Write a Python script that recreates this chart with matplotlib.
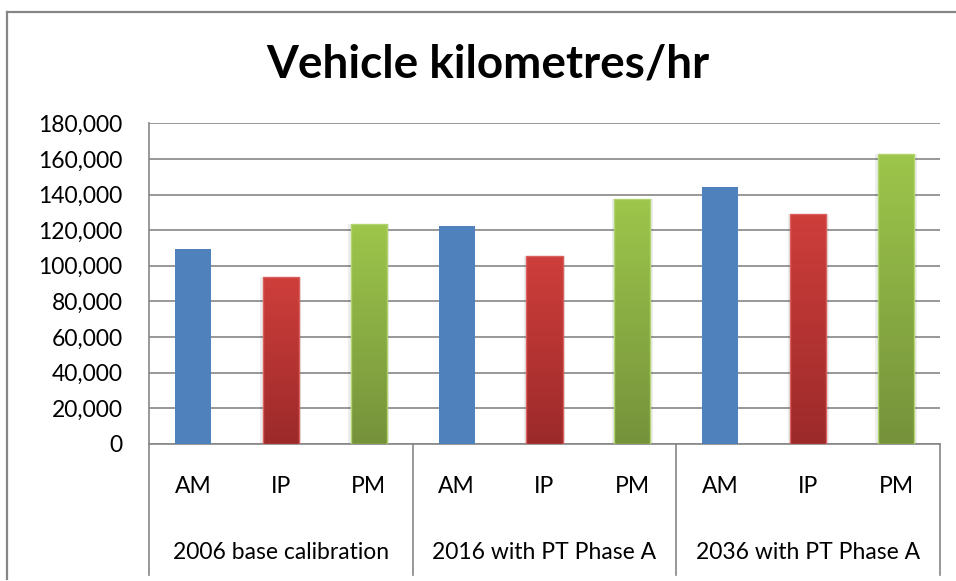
import numpy as np
import matplotlib.pyplot as plt
from matplotlib.colors import LinearSegmentedColormap
from matplotlib.lines import Line2D
from matplotlib.ticker import FuncFormatter
import matplotlib.transforms as mtransforms

plt.rcParams['font.family'] = ['Lato', 'DejaVu Sans']

# data
groups = ['2006 base calibration', '2016 with PT Phase A', '2036 with PT Phase A']
periods = ['AM', 'IP', 'PM']
am_vals = [109400, 122300, 144200]
ip_vals = [93500, 105400, 128900]
pm_vals = [123300, 137300, 162800]

blue = '#4F81BD'
red_top, red_bot = '#CE3E3B', '#9C2A2A'
green_top, green_bot = '#9DC64B', '#75923B'

W, H = 956, 581
fig = plt.figure(figsize=(W / 100, H / 100), dpi=100)

# plot area in pixels: left 149, right 940, top 123, bottom 444
ax = fig.add_axes([149 / W, 1 - 444 / H, (940 - 149) / W, (444 - 123.3) / H])

# interleave values: AM, IP, PM per group
values = []
colors = []
for a, i, p in zip(am_vals, ip_vals, pm_vals):
    values += [a, i, p]
    colors += ['am', 'ip', 'pm']
x = np.arange(len(values))

bars = ax.bar(x, values, width=0.41, color=blue, zorder=3, linewidth=0)

cmap_red = LinearSegmentedColormap.from_list('r', [red_bot, red_top])
cmap_green = LinearSegmentedColormap.from_list('g', [green_bot, green_top])
grad = np.linspace(0, 1, 256).reshape(-1, 1)

for bar, kind in zip(bars, colors):
    if kind == 'am':
        continue
    cmap = cmap_red if kind == 'ip' else cmap_green
    edge = '#D9605C' if kind == 'ip' else '#B2D46E'
    bar.set_facecolor('none')
    bar.set_edgecolor(edge)
    bar.set_linewidth(1.0)
    bar.set_zorder(4)
    x0, y0 = bar.get_x(), bar.get_y()
    w, h = bar.get_width(), bar.get_height()
    # soft shadow
    ax.bar(x0 + w / 2, h, width=w + 0.06, color='#000000', alpha=0.07, zorder=2, linewidth=0)
    im = ax.imshow(grad, cmap=cmap, origin='lower', aspect='auto',
                   extent=(x0, x0 + w, y0, y0 + h), zorder=3)
    im.set_clip_path(bar)

ax.set_xlim(-0.5, len(values) - 0.5)
ax.set_ylim(0, 180000)
ax.set_yticks(np.arange(0, 180001, 20000))
ax.yaxis.set_major_formatter(FuncFormatter(lambda v, p: f'{int(v):,}'))
ax.tick_params(axis='y', length=0, pad=19, labelsize=16.5, labelcolor='#000000')
ax.set_xticks([])

ax.grid(axis='y', color='#868686', linewidth=1.2, zorder=1)
ax.set_axisbelow(True)
for s in ['top', 'right']:
    ax.spines[s].set_visible(False)
for s in ['left', 'bottom']:
    ax.spines[s].set_color('#868686')
    ax.spines[s].set_linewidth(1.2)

# category labels below the axis
trans = mtransforms.blended_transform_factory(ax.transData, ax.transAxes)
for xi, kind in zip(x, colors):
    ax.text(xi, -0.134, periods[['am', 'ip', 'pm'].index(kind)], transform=trans,
            ha='center', va='center', fontsize=16.5)
for gi, name in enumerate(groups):
    ax.text(gi * 3 + 1, -0.337, name, transform=trans,
            ha='center', va='center', fontsize=16.5)
sep_bottom = -(575 - 444) / (444 - 123.3)
for sx in np.arange(-0.5, len(values), 3):
    ax.plot([sx, sx], [0, sep_bottom], transform=trans, color='#868686',
            linewidth=1.2, clip_on=False)

# title
fig.text(488 / W, 1 - 64 / H, 'Vehicle kilometres/hr', ha='center', va='center',
         fontsize=33, fontweight='bold')

# outer chart frame (left and top edges visible)
fig.add_artist(Line2D([7 / W, 7 / W], [1 - 579 / H, 1 - 12 / H], color='#868686', linewidth=1.6))
fig.add_artist(Line2D([7 / W, 1.0], [1 - 12 / H, 1 - 12 / H], color='#868686', linewidth=1.6))

fig.savefig('out.png', dpi=100)
